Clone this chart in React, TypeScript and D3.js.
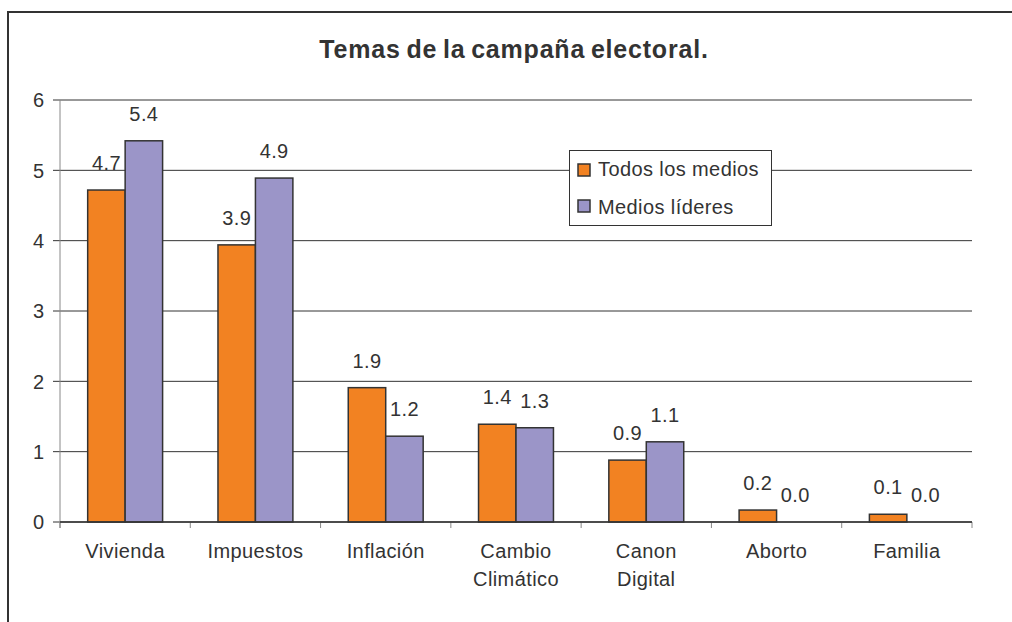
import React from "react";
import * as d3 from "d3";

const categories: string[][] = [
  ["Vivienda"],
  ["Impuestos"],
  ["Inflación"],
  ["Cambio", "Climático"],
  ["Canon", "Digital"],
  ["Aborto"],
  ["Familia"],
];
const seriesNames = ["Todos los medios", "Medios líderes"];
const todosLosMedios = [4.72, 3.94, 1.91, 1.39, 0.88, 0.17, 0.11];
const mediosLideres = [5.42, 4.89, 1.22, 1.34, 1.14, 0.0, 0.0];
const yTicks = [0, 1, 2, 3, 4, 5, 6];
const colors = ["#F28222", "#9B95C8"];
const title = "Temas de la campaña electoral.";

const W = 1012;
const H = 622;
const left = 60;
const right = 972;
const top = 100;
const bottom = 522;
const textColor = "#333333";
const font = "'Liberation Sans', Arial, sans-serif";
const fs = 20;
const ls = 0.4;

export default function App() {
  const keys = categories.map((c) => c.join(" "));
  const x0 = d3
    .scaleBand<string>()
    .domain(keys)
    .range([left, right])
    .paddingInner(0.425)
    .paddingOuter(0.2125);
  const x1 = d3.scaleBand<number>().domain([0, 1]).range([0, x0.bandwidth()]);
  const y = d3.scaleLinear().domain([0, 6]).range([bottom, top]);
  const series = [todosLosMedios, mediosLideres];
  const step = x0.step();

  return (
    <svg
      width={W}
      height={H}
      style={{ position: "absolute", left: 0, top: 0, fontFamily: font }}
    >
      <rect x={0} y={0} width={W} height={H} fill="#fff" />
      {/* outer frame */}
      <path d={`M8,${H + 5} L8,12 L${W + 5},12`} fill="none" stroke="#333" strokeWidth={2} />
      <text
        x={514}
        y={58}
        textAnchor="middle"
        fontSize={25}
        fontWeight="bold"
        fill={textColor}
        letterSpacing={0.8}
        wordSpacing={-2}
      >
        {title}
      </text>
      {/* gridlines */}
      {yTicks.map((t) => (
        <g key={t}>
          <line x1={53} x2={right} y1={y(t)} y2={y(t)} stroke="#333" strokeWidth={1} />
          <text
            x={44}
            y={y(t)}
            dy="0.36em"
            textAnchor="end"
            fontSize={fs}
            fill={textColor}
          >
            {t}
          </text>
        </g>
      ))}
      {/* y axis */}
      <line x1={left} x2={left} y1={top} y2={bottom + 6} stroke="#888" strokeWidth={1} />
      {/* x axis ticks */}
      {d3.range(keys.length + 1).map((i) => (
        <line
          key={i}
          x1={left + i * step}
          x2={left + i * step}
          y1={bottom}
          y2={bottom + 6}
          stroke="#888"
          strokeWidth={1}
        />
      ))}
      {/* bars */}
      {keys.map((k, i) => (
        <g key={k} transform={`translate(${x0(k)},0)`}>
          {series.map((s, j) =>
            s[i] > 0 ? (
              <rect
                key={j}
                x={x1(j)}
                y={y(s[i])}
                width={x1.bandwidth()}
                height={bottom - y(s[i])}
                fill={colors[j]}
                stroke="#333"
                strokeWidth={1.5}
              />
            ) : null
          )}
          {series.map((s, j) => (
            <text
              key={"l" + j}
              x={(x1(j) as number) + x1.bandwidth() / 2}
              y={y(s[i]) - 20}
              textAnchor="middle"
              fontSize={fs}
              letterSpacing={ls}
              fill={textColor}
            >
              {s[i].toFixed(1)}
            </text>
          ))}
        </g>
      ))}
      <line x1={left} x2={right} y1={bottom} y2={bottom} stroke="#333" strokeWidth={1.5} />
      {/* category labels */}
      {categories.map((c, i) =>
        c.map((line, li) => (
          <text
            key={i + "-" + li}
            x={(x0(keys[i]) as number) + x0.bandwidth() / 2}
            y={558 + li * 28}
            textAnchor="middle"
            fontSize={fs}
            letterSpacing={ls}
            fill={textColor}
          >
            {line}
          </text>
        ))
      )}
      {/* legend */}
      <g>
        <rect x={569.5} y={150.5} width={202} height={75} fill="#fff" stroke="#333" strokeWidth={1} />
        {seriesNames.map((n, j) => (
          <g key={n}>
            <rect
              x={578}
              y={164 + j * 36}
              width={12}
              height={12}
              fill={colors[j]}
              stroke="#333"
              strokeWidth={1.5}
            />
            <text x={598} y={176 + j * 38} fontSize={fs} letterSpacing={ls} fill={textColor}>
              {n}
            </text>
          </g>
        ))}
      </g>
    </svg>
  );
}
